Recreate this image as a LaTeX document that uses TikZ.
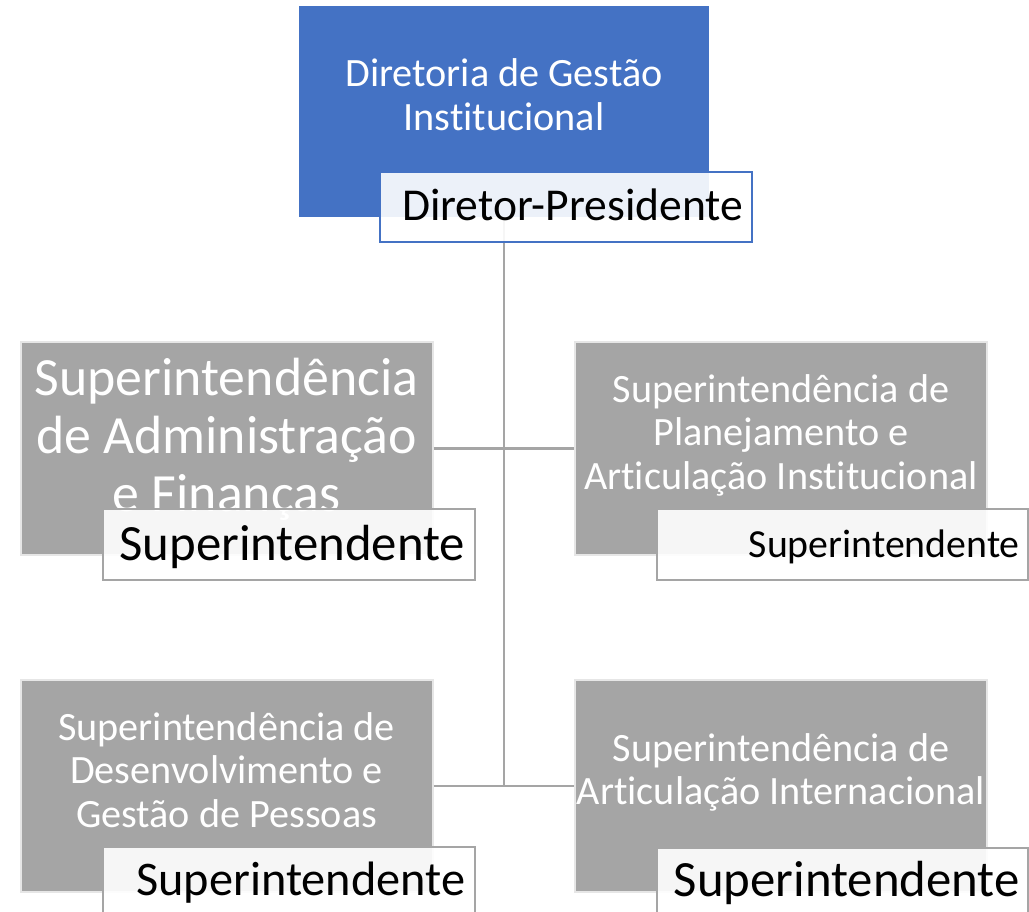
\documentclass[tikz,border=0pt]{standalone}
\usepackage{fontspec}
\setmainfont{Carlito}[Ligatures={NoCommon}]
\definecolor{dblue}{HTML}{4472C4}
\definecolor{dgray}{HTML}{A5A5A5}
\definecolor{lgray}{HTML}{E6E6E6}
\begin{document}
\begin{tikzpicture}[x=1pt,y=-1pt,
  topbox/.style={rectangle,fill=dblue,draw=none,minimum width=410pt,minimum height=211pt,inner sep=0pt},
  unitbox/.style={rectangle,fill=dgray,draw=lgray,line width=2pt,minimum width=412pt,minimum height=212pt,inner sep=0pt},
  labelbox/.style={rectangle,fill=white,fill opacity=0.9,line width=1.6pt,minimum width=372pt,minimum height=71pt,inner sep=0pt},
  unittext/.style={text=white,align=center,inner sep=0pt,anchor=base,font=\fontsize{40.2}{43.5}\selectfont},
  labeltext/.style={text=black,inner sep=0pt,anchor=base east},
  conn/.style={draw=dgray,line width=2.6pt}]
\useasboundingbox (0,0) rectangle (1029,912);
% boxes
\node[topbox] (dgi) at (504,111.5) {};
\node[unitbox] (saf) at (226.5,448.5) {};
\node[unitbox] (spa) at (781,448.5) {};
\node[unitbox] (sdp) at (226.5,786) {};
\node[unitbox] (sai) at (781,786) {};
% connectors
\draw[conn] (dgi.south) -- (dgi.south |- sdp.east);
\draw[conn] (saf.east) -- (spa.west);
\draw[conn] (sdp.east) -- (sai.west);
% unit texts (anchor base = baseline of last line)
\node[unittext,font=\fontsize{40.2}{44}\selectfont] (dgit) at (504,131) {Diretoria de Gestão\\Institucional};
\node[unittext,font=\fontsize{53.8}{58}\selectfont] (saft) at (226.5,511) {Superintendência\\de Administração\\e Finanças};
\node[unittext] (spat) at (781,489) {Superintendência de\\Planejamento e\\Articulação Institucional};
\node[unittext] (sdpt) at (226.5,827) {Superintendência de\\Desenvolvimento e\\Gestão de Pessoas};
\node[unittext] (sait) at (781,804.5) {Superintendência de\\Articulação Internacional};
% label boxes
\node[labelbox,draw=dblue,minimum height=70pt] (dgil) at (566,207) {};
\node[labelbox,draw=dgray] (safl) at (289,544.5) {};
\node[labelbox,draw=dgray,minimum width=371pt] (spal) at (842.5,544.5) {};
\node[labelbox,draw=dgray,minimum height=70pt] (sdpl) at (289,882) {};
\node[labelbox,draw=dgray,minimum width=371pt,minimum height=70pt] (sail) at (842.5,883) {};
% label texts
\node[labeltext,font=\fontsize{45.6}{54}\selectfont] (dgilt) at (743.5,220.5) {Diretor-Presidente};
\node[labeltext,font=\fontsize{50.8}{60}\selectfont] (saflt) at (465.5,560) {Superintendente};
\node[labeltext,font=\fontsize{39.8}{47}\selectfont] (spalt) at (1020,557) {Superintendente};
\node[labeltext,font=\fontsize{48.3}{57}\selectfont] (sdplt) at (465.5,895) {Superintendente};
\node[labeltext,font=\fontsize{50.8}{60}\selectfont] (sailt) at (1020,896) {Superintendente};
\end{tikzpicture}
\end{document}
